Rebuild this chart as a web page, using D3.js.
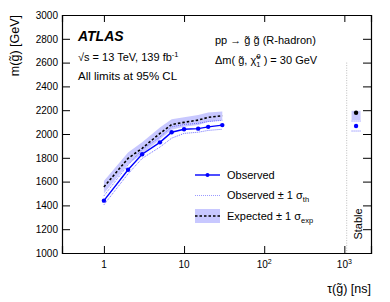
<!DOCTYPE html>
<html lang="en">
<head>
<meta charset="utf-8">
<title>Gluino R-hadron lifetime limits</title>
<script src="https://cdn.jsdelivr.net/npm/d3@7"></script>
<style>
body{margin:0;background:#fff;}
svg{font-family:"Liberation Sans",Arial,Helvetica,sans-serif;}
</style>
</head>
<body>
<div id="chart"></div>
<script>
var width = 390,
    height = 302;

// lifetimes [ns] and mass limits [GeV]
var tau      = [1, 2, 3, 5, 7, 10, 15, 20, 30];
var observed = [1440, 1700, 1830, 1930, 2015, 2040, 2045, 2060, 2075];
var obsThUp  = [1480, 1740, 1870, 1975, 2060, 2080, 2090, 2105, 2115];
var obsThDn  = [1405, 1665, 1795, 1890, 1965, 2005, 2015, 2030, 2040];
var expected = [1555, 1795, 1880, 2005, 2080, 2098, 2117, 2140, 2153];
var expUp    = [1605, 1845, 1930, 2055, 2125, 2140, 2160, 2180, 2190];
var expDn    = [1500, 1745, 1830, 1955, 2035, 2060, 2075, 2100, 2115];

// "Stable" column
var stableTau = 1400, stableEdge = 1070;
var stableObs = 2067, stableObsUp = 2109, stableObsDn = 2025;
var stableExp = 2178, stableExpUp = 2195, stableExpDn = 2117;

var yTicks = [1000, 1200, 1400, 1600, 1800, 2000, 2200, 2400, 2600, 2800, 3000];
var xTicks = [1, 10, 100, 1000];
var xTickLabels = ["1", "10", "10|2", "10|3"];

var blue = "#0000ff", bandCol = "#c8c8ff", thCol = "#6f6fff";

var svg = d3.select("#chart").append("svg")
    .attr("width", width)
    .attr("height", height);

var x = d3.scaleLog().domain([0.3, 2150]).range([62, 371]);
var y = d3.scaleLinear().domain([1000, 3000]).range([253, 15]);

var pts = tau.map(function(t, i){
  return {t:t, o:observed[i], ou:obsThUp[i], od:obsThDn[i], e:expected[i], eu:expUp[i], ed:expDn[i]};
});

// expected band
svg.append("path").datum(pts)
  .attr("fill", bandCol)
  .attr("d", d3.area().x(function(d){return x(d.t);}).y0(function(d){return y(d.ed);}).y1(function(d){return y(d.eu);}));

// theory dotted lines
["ou","od"].forEach(function(k){
  svg.append("path").datum(pts)
    .attr("fill","none").attr("stroke",thCol).attr("stroke-width",1)
    .attr("stroke-dasharray","1,1")
    .attr("d", d3.line().x(function(d){return x(d.t);}).y(function(d){return y(d[k]);}));
});

// expected dashed
svg.append("path").datum(pts)
  .attr("fill","none").attr("stroke","#000").attr("stroke-width",1.6)
  .attr("stroke-dasharray","2.5,2")
  .attr("d", d3.line().x(function(d){return x(d.t);}).y(function(d){return y(d.e);}));

// observed
svg.append("path").datum(pts)
  .attr("fill","none").attr("stroke",blue).attr("stroke-width",1.4)
  .attr("d", d3.line().x(function(d){return x(d.t);}).y(function(d){return y(d.o);}));
svg.selectAll("circle.obs").data(pts).enter().append("circle")
  .attr("class","obs")
  .attr("cx", function(d){return x(d.t);})
  .attr("cy", function(d){return y(d.o);})
  .attr("r", 2.2).attr("fill", blue);

// stable column
svg.append("line")
  .attr("x1", x(stableEdge)).attr("x2", x(stableEdge))
  .attr("y1", y(2600)).attr("y2", y(1000))
  .attr("stroke","#bbb").attr("stroke-width",1).attr("stroke-dasharray","1,1.5");
var sx = x(stableTau);
svg.append("rect")
  .attr("x", sx-4.5).attr("width", 9)
  .attr("y", y(stableExpUp)).attr("height", y(stableExpDn)-y(stableExpUp))
  .attr("fill", bandCol);
[stableObsUp, stableObsDn].forEach(function(v){
  svg.append("line").attr("x1", sx-4.5).attr("x2", sx+4.5)
    .attr("y1", y(v)).attr("y2", y(v))
    .attr("stroke", thCol).attr("stroke-dasharray","1,1");
});
svg.append("circle").attr("cx", sx).attr("cy", y(stableExp)).attr("r", 2.2).attr("fill","#000");
svg.append("circle").attr("cx", sx).attr("cy", y(stableObs)).attr("r", 2.2).attr("fill",blue);
svg.append("text")
  .attr("transform","translate(" + (sx+5.5) + "," + 224 + ") rotate(-90)")
  .attr("text-anchor","middle").attr("font-size","11px").text("Stable");

// axes
var minorX = [];
[0.1, 1, 10, 100, 1000].forEach(function(dec){
  for (var k = 2; k <= 9; k++){
    var v = dec*k;
    if (v >= 0.3 && v <= 2150) minorX.push(v);
  }
});
var minorY = d3.range(1000, 3001, 50).filter(function(v){return v % 200 != 0;});

var gB = svg.append("g").attr("transform","translate(0,253)");
gB.call(d3.axisBottom(x).tickValues(minorX).tickSize(-3.5).tickFormat(""));
gB.call(d3.axisBottom(x).tickValues(xTicks).tickSize(-7).tickPadding(9).tickFormat(""));
var gT = svg.append("g").attr("transform","translate(0,15)");
gT.call(d3.axisTop(x).tickValues(minorX).tickSize(-3.5).tickFormat(""));
gT.call(d3.axisTop(x).tickValues(xTicks).tickSize(-7).tickFormat(""));
var gL = svg.append("g").attr("transform","translate(62,0)");
gL.call(d3.axisLeft(y).tickValues(minorY).tickSize(-4).tickFormat(""));
gL.call(d3.axisLeft(y).tickValues(yTicks).tickSize(-8).tickPadding(4).tickFormat(d3.format("d")));
var gR = svg.append("g").attr("transform","translate(371,0)");
gR.call(d3.axisRight(y).tickValues(minorY).tickSize(-4).tickFormat(""));
gR.call(d3.axisRight(y).tickValues(yTicks).tickSize(-8).tickFormat(""));

svg.selectAll(".domain").attr("stroke","#000").attr("stroke-width",1.2);
svg.selectAll(".tick line").attr("stroke","#000").attr("stroke-width",1);
svg.selectAll(".tick text").attr("font-size","10px").attr("font-family","Liberation Sans, Arial, sans-serif").attr("fill","#000");

// x tick labels with superscripts
var xl = svg.append("g").attr("font-size","10px").attr("text-anchor","middle");
xTicks.forEach(function(v, i){
  var parts = xTickLabels[i].split("|");
  var t = xl.append("text").attr("x", x(v)).attr("y", 268);
  t.append("tspan").text(parts[0]);
  if (parts[1]) t.append("tspan").attr("dy", -4).attr("font-size","7px").text(parts[1]);
});

// axis titles
svg.append("text")
  .attr("transform","translate(19,15) rotate(-90)")
  .attr("text-anchor","end").attr("font-size","12.5px")
  .text("m(g\u0303) [GeV]");
svg.append("text").attr("x", 371).attr("y", 293)
  .attr("text-anchor","end").attr("font-size","12.5px")
  .text("\u03c4(g\u0303) [ns]");

// labels
svg.append("text").attr("x", 78).attr("y", 41)
  .attr("font-size","14px").attr("font-weight","bold").attr("font-style","italic")
  .text("ATLAS");
var t1 = svg.append("text").attr("x", 78).attr("y", 61).attr("font-size","11px");
t1.append("tspan").text("\u221as = 13 TeV, 139 fb");
t1.append("tspan").attr("dy",-4).attr("font-size","7.5px").text("-1");
svg.append("text").attr("x", 78).attr("y", 80).attr("font-size","11.5px")
  .text("All limits at 95% CL");

svg.append("text").attr("x", 215).attr("y", 44).attr("font-size","11px")
  .text("pp \u2192 g\u0303 g\u0303 (R-hadron)");
var t2 = svg.append("text").attr("x", 215).attr("y", 64).attr("font-size","11px");
t2.append("tspan").text("\u0394m( g\u0303, \u03c7\u0303");
t2.append("tspan").attr("dy",3).attr("font-size","7.5px").text("1");
t2.append("tspan").attr("dx",-4).attr("dy",-8).attr("font-size","7.5px").text("0");
t2.append("tspan").attr("dy",5).text(" ) = 30 GeV");

// legend
var lg = svg.append("g");
lg.append("line").attr("x1",195).attr("x2",220).attr("y1",175).attr("y2",175)
  .attr("stroke",blue).attr("stroke-width",1.4);
lg.append("circle").attr("cx",207.5).attr("cy",175).attr("r",2).attr("fill",blue);
lg.append("text").attr("x",227).attr("y",179).attr("font-size","11px").text("Observed");

lg.append("line").attr("x1",195).attr("x2",220).attr("y1",195.5).attr("y2",195.5)
  .attr("stroke","#9a9aff").attr("stroke-width",1).attr("stroke-dasharray","1,1");
var l2 = lg.append("text").attr("x",227).attr("y",199).attr("font-size","11px");
l2.append("tspan").text("Observed \u00b1 1 \u03c3");
l2.append("tspan").attr("dy",3).attr("font-size","7.5px").text("th");

lg.append("rect").attr("x",195).attr("y",209).attr("width",25).attr("height",14).attr("fill",bandCol);
lg.append("line").attr("x1",195).attr("x2",220).attr("y1",216).attr("y2",216)
  .attr("stroke","#000").attr("stroke-width",1.6).attr("stroke-dasharray","2.5,2");
var l3 = lg.append("text").attr("x",227).attr("y",220).attr("font-size","11px");
l3.append("tspan").text("Expected \u00b1 1 \u03c3");
l3.append("tspan").attr("dy",3).attr("font-size","7.5px").text("exp");
</script>
</body>
</html>
